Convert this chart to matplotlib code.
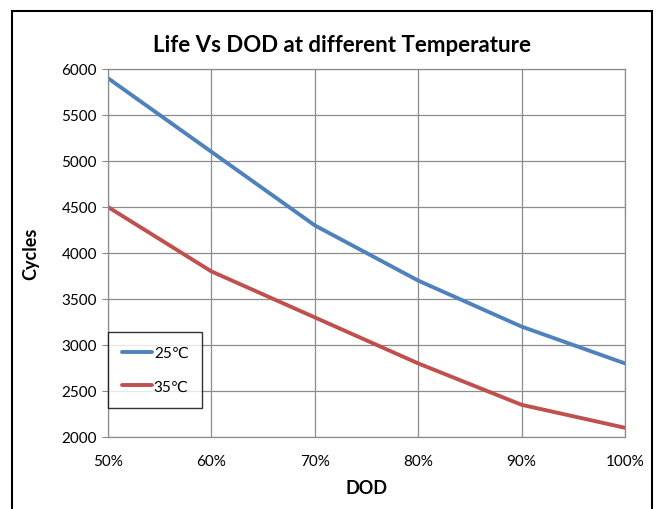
import matplotlib.pyplot as plt
from matplotlib.patches import Rectangle

# Data
dod = [50, 60, 70, 80, 90, 100]
cycles_25 = [5900, 5100, 4300, 3700, 3200, 2800]
cycles_35 = [4500, 3800, 3300, 2800, 2350, 2100]
y_ticks = [2000, 2500, 3000, 3500, 4000, 4500, 5000, 5500, 6000]
x_labels = ["50%", "60%", "70%", "80%", "90%", "100%"]

plt.rcParams['font.family'] = ['Lato', 'DejaVu Sans']

fig = plt.figure(figsize=(6.57, 5.10), dpi=100)
ax = fig.add_axes([108 / 657, 1 - 438 / 510, 517 / 657, 368 / 510])

ax.plot(dod, cycles_25, color="#4F81BD", lw=2.8, label="25\u2103", solid_capstyle="round")
ax.plot(dod, cycles_35, color="#C0504D", lw=2.8, label="35\u2103", solid_capstyle="round")

ax.set_xlim(50, 100)
ax.set_ylim(2000, 6000)
ax.set_xticks(dod)
ax.set_xticklabels(x_labels)
ax.set_yticks(y_ticks)
ax.tick_params(axis="x", length=0, pad=12, labelsize=11)
ax.tick_params(axis="y", length=4, direction="out", pad=4, labelsize=11, color="#888888")
ax.grid(True, color="#8c8c8c", lw=0.9)
ax.set_axisbelow(True)
for s in ax.spines.values():
    s.set_color("#8c8c8c")
    s.set_linewidth(0.9)

ax.set_xlabel("DOD", fontsize=13, fontweight="bold", labelpad=8)
ax.set_ylabel("Cycles", fontsize=13, fontweight="bold", labelpad=16)
fig.text(0.5 + 0.02, 1 - 45 / 510, "Life Vs DOD at different Temperature",
         ha="center", va="center", fontsize=16, fontweight="bold")

leg = ax.legend(loc="lower left", bbox_to_anchor=(0.0, 0.08), fancybox=False,
                frameon=True, edgecolor="black", fontsize=11, handlelength=2.0,
                handletextpad=0.1, labelspacing=1.3, borderaxespad=0,
                borderpad=0.9)
leg.get_frame().set_linewidth(1.0)

# outer chart border
fig.patches.append(Rectangle((12 / 657, -0.05), 640 / 657, 1.05 - 12 / 510,
                             transform=fig.transFigure, fill=False,
                             edgecolor="black", lw=1.5))

fig.savefig("out.png", dpi=100)
